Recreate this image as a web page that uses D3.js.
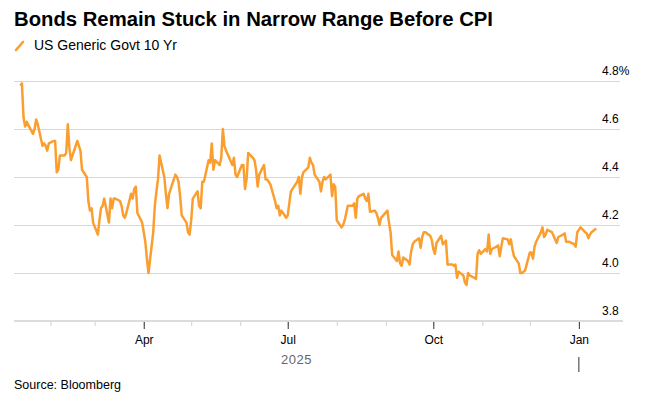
<!DOCTYPE html>
<html>
<head>
<meta charset="utf-8">
<script src="https://cdn.jsdelivr.net/npm/d3@7"></script>
<style>
  body { margin: 0; background: #fff; }
  text { font-family: "Liberation Sans", Arial, sans-serif; }
</style>
</head>
<body>
<div id="plot"></div>
<script>
// US Generic Govt 10 Yr, daily close (%)
const dates = [
  "2025-01-13","2025-01-14","2025-01-15","2025-01-16","2025-01-17","2025-01-21","2025-01-22","2025-01-23","2025-01-24","2025-01-27","2025-01-28","2025-01-29","2025-01-30","2025-01-31",
  "2025-02-03","2025-02-04","2025-02-05","2025-02-06","2025-02-07","2025-02-10","2025-02-11","2025-02-12","2025-02-13","2025-02-14","2025-02-18","2025-02-19","2025-02-20","2025-02-21","2025-02-24","2025-02-25","2025-02-26","2025-02-27","2025-02-28",
  "2025-03-03","2025-03-04","2025-03-05","2025-03-06","2025-03-07","2025-03-10","2025-03-11","2025-03-12","2025-03-13","2025-03-14","2025-03-17","2025-03-18","2025-03-19","2025-03-20","2025-03-21","2025-03-24","2025-03-25","2025-03-26","2025-03-27","2025-03-28","2025-03-31",
  "2025-04-01","2025-04-02","2025-04-03","2025-04-04","2025-04-07","2025-04-08","2025-04-09","2025-04-10","2025-04-11","2025-04-14","2025-04-15","2025-04-16","2025-04-17","2025-04-21","2025-04-22","2025-04-23","2025-04-24","2025-04-25","2025-04-28","2025-04-29","2025-04-30",
  "2025-05-01","2025-05-02","2025-05-05","2025-05-06","2025-05-07","2025-05-08","2025-05-09","2025-05-12","2025-05-13","2025-05-14","2025-05-15","2025-05-16","2025-05-19","2025-05-20","2025-05-21","2025-05-22","2025-05-23","2025-05-27","2025-05-28","2025-05-29","2025-05-30",
  "2025-06-02","2025-06-03","2025-06-04","2025-06-05","2025-06-06","2025-06-09","2025-06-10","2025-06-11","2025-06-12","2025-06-13","2025-06-16","2025-06-17","2025-06-18","2025-06-20","2025-06-23","2025-06-24","2025-06-25","2025-06-26","2025-06-27","2025-06-30",
  "2025-07-01","2025-07-02","2025-07-03","2025-07-07","2025-07-08","2025-07-09","2025-07-10","2025-07-11","2025-07-14","2025-07-15","2025-07-16","2025-07-17","2025-07-18","2025-07-21","2025-07-22","2025-07-23","2025-07-24","2025-07-25","2025-07-28","2025-07-29","2025-07-30","2025-07-31",
  "2025-08-01","2025-08-04","2025-08-05","2025-08-06","2025-08-07","2025-08-08","2025-08-11","2025-08-12","2025-08-13","2025-08-14","2025-08-15","2025-08-18","2025-08-19","2025-08-20","2025-08-21","2025-08-22","2025-08-25","2025-08-26","2025-08-27","2025-08-28","2025-08-29",
  "2025-09-02","2025-09-03","2025-09-04","2025-09-05","2025-09-08","2025-09-09","2025-09-10","2025-09-11","2025-09-12","2025-09-15","2025-09-16","2025-09-17","2025-09-18","2025-09-19","2025-09-22","2025-09-23","2025-09-24","2025-09-25","2025-09-26","2025-09-29","2025-09-30",
  "2025-10-01","2025-10-02","2025-10-03","2025-10-06","2025-10-07","2025-10-08","2025-10-09","2025-10-10","2025-10-13","2025-10-14","2025-10-15","2025-10-16","2025-10-17","2025-10-20","2025-10-21","2025-10-22","2025-10-23","2025-10-24","2025-10-27","2025-10-28","2025-10-29","2025-10-30","2025-10-31",
  "2025-11-03","2025-11-04","2025-11-05","2025-11-06","2025-11-07","2025-11-10","2025-11-11","2025-11-12","2025-11-13","2025-11-14","2025-11-17","2025-11-18","2025-11-19","2025-11-20","2025-11-21","2025-11-24","2025-11-25","2025-11-26","2025-11-28",
  "2025-12-01","2025-12-02","2025-12-03","2025-12-04","2025-12-05","2025-12-08","2025-12-09","2025-12-10","2025-12-11","2025-12-12","2025-12-15","2025-12-16","2025-12-17","2025-12-18","2025-12-19","2025-12-22","2025-12-23","2025-12-24","2025-12-26","2025-12-29","2025-12-30","2025-12-31",
  "2026-01-02","2026-01-05","2026-01-06","2026-01-07","2026-01-08","2026-01-09","2026-01-12"
];

const yields = [
  4.78,4.79,4.65,4.61,4.63,4.58,4.60,4.64,4.62,4.53,4.54,4.53,4.51,4.54,
  4.55,4.55,4.42,4.43,4.49,4.49,4.50,4.62,4.52,4.47,4.55,4.53,4.51,4.43,4.40,4.30,4.26,4.27,4.21,
  4.16,4.22,4.27,4.28,4.31,4.21,4.31,4.27,4.31,4.31,4.30,4.28,4.24,4.23,4.25,4.33,4.31,4.35,4.36,4.25,4.21,
  4.17,4.13,4.06,4.00,4.17,4.28,4.34,4.39,4.49,4.40,4.33,4.27,4.33,4.41,4.40,4.38,4.32,4.24,4.21,4.17,4.16,
  4.22,4.31,4.34,4.28,4.27,4.38,4.38,4.47,4.46,4.54,4.43,4.47,4.45,4.48,4.60,4.53,4.51,4.45,4.48,4.41,4.40,
  4.45,4.45,4.35,4.39,4.50,4.48,4.47,4.43,4.36,4.41,4.45,4.39,4.39,4.37,4.30,4.27,4.28,4.24,4.26,4.23,
  4.24,4.29,4.34,4.38,4.40,4.33,4.40,4.42,4.44,4.48,4.46,4.45,4.41,4.38,4.34,4.38,4.40,4.39,4.41,4.32,4.37,4.36,
  4.22,4.19,4.20,4.22,4.25,4.28,4.28,4.29,4.23,4.31,4.32,4.33,4.31,4.30,4.33,4.255,4.26,4.25,4.23,4.20,4.23,
  4.26,4.21,4.17,4.075,4.05,4.09,4.04,4.03,4.065,4.05,4.035,4.09,4.12,4.13,4.145,4.105,4.15,4.17,4.17,4.155,4.14,
  4.10,4.08,4.125,4.155,4.12,4.125,4.135,4.035,4.035,4.03,4.035,3.98,4.005,3.99,3.96,3.95,4.00,3.99,3.98,3.975,4.08,4.095,4.08,
  4.10,4.09,4.16,4.08,4.10,4.11,4.115,4.07,4.11,4.145,4.14,4.12,4.14,4.10,4.07,4.04,4.00,4.00,4.01,
  4.085,4.085,4.06,4.11,4.13,4.17,4.19,4.15,4.16,4.18,4.17,4.155,4.14,4.125,4.15,4.16,4.165,4.13,4.13,4.12,4.11,4.17,
  4.19,4.17,4.165,4.145,4.16,4.17,4.185
];

const yTicks = [3.8, 4.0, 4.2, 4.4, 4.6, 4.8];
const majorTicks = ["2025-04-01", "2025-07-01", "2025-10-01", "2026-01-01"];
const majorLabels = ["Apr", "Jul", "Oct", "Jan"];
const yearLabel = "2025";

const w = 656;
const h = 403;
const plot = { left: 14, right: 620, top: 81, bottom: 321 };
const lineColor = "#fa9f2f";

const parse = d3.timeParse("%Y-%m-%d");
const data = dates.map((d, i) => ({ date: parse(d), value: yields[i] }));

const xScale = d3.scaleTime()
  .domain([parse("2025-01-09"), parse("2026-01-27")])
  .range([plot.left, plot.right]);

const yScale = d3.scaleLinear()
  .domain([3.8, 4.8])
  .range([plot.bottom, plot.top]);

const svg = d3.select("div#plot")
  .append("svg")
  .attr("width", w)
  .attr("height", h);

// Title
svg.append("text")
  .attr("x", 14)
  .attr("y", 26)
  .style("font-size", "20.3px")
  .style("font-weight", "bold")
  .style("fill", "#000")
  .text("Bonds Remain Stuck in Narrow Range Before CPI");

// Legend
svg.append("line")
  .attr("x1", 16).attr("y1", 50)
  .attr("x2", 23).attr("y2", 42)
  .attr("stroke", lineColor)
  .attr("stroke-width", 2.6)
  .attr("stroke-linecap", "round");

svg.append("text")
  .attr("x", 34)
  .attr("y", 49.5)
  .style("font-size", "14px")
  .style("fill", "#000")
  .text("US Generic Govt 10 Yr");

// Gridlines + y labels on the right
const yAxis = d3.axisRight(yScale)
  .tickValues(yTicks)
  .tickSize(-(plot.right - plot.left))
  .tickFormat(d => d === 4.8 ? "4.8%" : d3.format(".1f")(d));

const yG = svg.append("g")
  .attr("class", "yAxis")
  .attr("transform", `translate(${plot.right}, 0)`)
  .call(yAxis);

yG.select(".domain").remove();
yG.selectAll("line")
  .attr("stroke", "#d8d8d8")
  .attr("stroke-width", 1);
yG.selectAll("text")
  .attr("x", -18)
  .attr("dy", "-0.55em")
  .attr("text-anchor", "start")
  .style("font-size", "12px")
  .style("fill", "#000");

// Minor month ticks
const minorAxis = d3.axisBottom(xScale)
  .ticks(d3.timeMonth.every(1))
  .tickSize(5)
  .tickFormat("");

const minorG = svg.append("g")
  .attr("transform", `translate(0, ${plot.bottom})`)
  .call(minorAxis);
minorG.select(".domain").remove();
minorG.selectAll("line").attr("stroke", "#cfcfcf");

// Major quarter ticks with labels
const majorAxis = d3.axisBottom(xScale)
  .tickValues(majorTicks.map(parse))
  .tickSize(8)
  .tickPadding(6)
  .tickFormat((d, i) => majorLabels[i]);

const majorG = svg.append("g")
  .attr("transform", `translate(0, ${plot.bottom})`)
  .call(majorAxis);
majorG.select(".domain").remove();
majorG.selectAll("line").attr("stroke", "#333");
majorG.selectAll("text")
  .style("font-size", "12px")
  .style("fill", "#000");

// Axis baseline
svg.append("line")
  .attr("x1", plot.left).attr("x2", plot.right + 3)
  .attr("y1", plot.bottom).attr("y2", plot.bottom)
  .attr("stroke", "#dcdcdc")
  .attr("stroke-width", 2);

// Year label and separator
const yearStart = xScale.range()[0];
const yearEnd = xScale(parse("2026-01-01"));
svg.append("text")
  .attr("x", (yearStart + yearEnd) / 2)
  .attr("y", 364)
  .attr("text-anchor", "middle")
  .style("font-size", "13px")
  .style("letter-spacing", "0.5px")
  .style("fill", "#666")
  .text(yearLabel);

svg.append("line")
  .attr("x1", yearEnd).attr("x2", yearEnd)
  .attr("y1", 357).attr("y2", 372)
  .attr("stroke", "#333")
  .attr("stroke-width", 1);

// The line
const line = d3.line()
  .x(d => xScale(d.date))
  .y(d => yScale(d.value));

svg.append("path")
  .datum(data)
  .attr("fill", "none")
  .attr("stroke", lineColor)
  .attr("stroke-width", 2.5)
  .attr("stroke-linejoin", "round")
  .attr("d", line);

// Source
svg.append("text")
  .attr("x", 14)
  .attr("y", 389)
  .style("font-size", "12.5px")
  .style("fill", "#000")
  .text("Source: Bloomberg");
</script>
</body>
</html>
